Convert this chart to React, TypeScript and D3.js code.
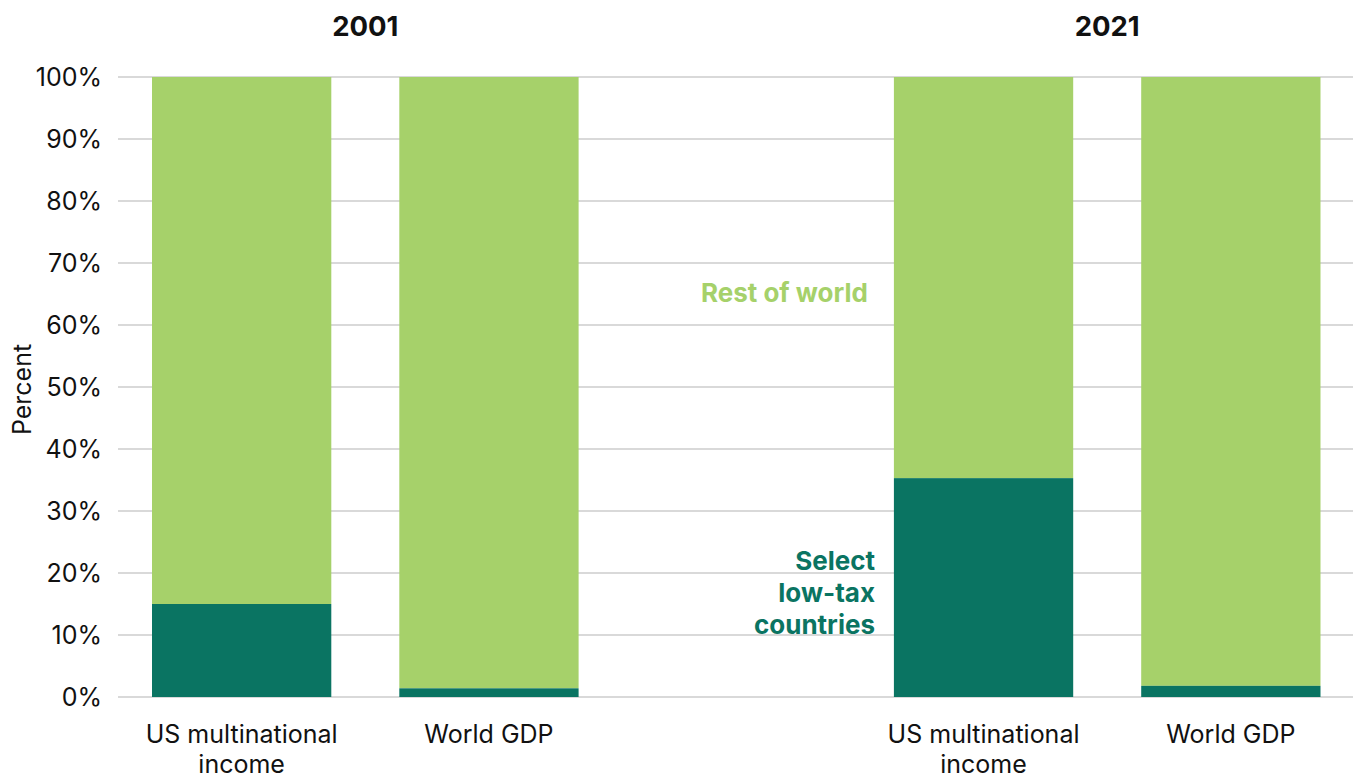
import React from "react";
import * as d3 from "d3";

const groups = ["2001", "2021"];
const categories = ["US multinational income", "World GDP"];
const lowTax2001 = [15.0, 1.4];
const lowTax2021 = [35.3, 1.8];
const yTicks = [0, 10, 20, 30, 40, 50, 60, 70, 80, 90, 100];
const seriesNames = ["Select low-tax countries", "Rest of world"];

const W = 1353;
const H = 778;
const FONT = "Inter, 'Noto Sans', sans-serif";
const DARK = "#0a7462";
const LIGHT = "#a6d16a";

export default function App() {
  const slots = ["2001|0", "2001|1", "gap", "2021|0", "2021|1"];
  const x = d3
    .scaleBand<string>()
    .domain(slots)
    .range([118, 1354.5])
    .paddingInner(0.275)
    .paddingOuter(0.1375);
  const y = d3.scaleLinear().domain([0, 100]).range([697, 77]);

  const bars: { key: string; cat: string; low: number; group: string }[] = [];
  groups.forEach((g, gi) => {
    const vals = gi === 0 ? lowTax2001 : lowTax2021;
    categories.forEach((c, ci) => {
      bars.push({ key: `${g}|${ci}`, cat: c, low: vals[ci], group: g });
    });
  });

  const catLines = (c: string) =>
    c === "US multinational income" ? ["US multinational", "income"] : [c];

  return (
    <svg
      width={W}
      height={H}
      style={{ position: "absolute", left: 0, top: 0, background: "#fff" }}
      fontFamily={FONT}
    >
      {yTicks.map((t) => (
        <g key={t}>
          <line x1={118} x2={W} y1={y(t)} y2={y(t)} stroke="#d9d9d9" strokeWidth={2} />
          <text x={102} y={y(t)} dy="0.36em" textAnchor="end" fontSize={25} fill="#111">
            {d3.format(".0f")(t)}%
          </text>
        </g>
      ))}
      <text
        transform={`translate(31,${389.5}) rotate(-90)`}
        textAnchor="middle"
        fontSize={25}
        fill="#111"
      >
        Percent
      </text>
      {bars.map((b) => {
        const x0 = x(b.key)!;
        const bw = x.bandwidth();
        return (
          <g key={b.key}>
            <rect x={x0} width={bw} y={y(100)} height={y(b.low) - y(100)} fill={LIGHT} />
            <rect x={x0} width={bw} y={y(b.low)} height={y(0) - y(b.low)} fill={DARK} />
            {catLines(b.cat).map((line, li) => (
              <text
                key={li}
                x={x0 + bw / 2}
                y={743 + li * 30}
                textAnchor="middle"
                fontSize={25}
                fill="#111"
              >
                {line}
              </text>
            ))}
          </g>
        );
      })}
      {groups.map((g) => {
        const a = x(`${g}|0`)!;
        const b = x(`${g}|1`)! + x.bandwidth();
        return (
          <text key={g} x={(a + b) / 2} y={36} textAnchor="middle" fontSize={27.5} fontWeight="bold" fill="#111">
            {g}
          </text>
        );
      })}
      <text x={868} y={302} textAnchor="end" fontSize={26} fontWeight="bold" fill={LIGHT}>
        {seriesNames[1]}
      </text>
      {["Select", "low-tax", "countries"].map((l, i) => (
        <text key={l} x={875} y={570 + i * 32} textAnchor="end" fontSize={26} fontWeight="bold" fill={DARK}>
          {l}
        </text>
      ))}
    </svg>
  );
}
